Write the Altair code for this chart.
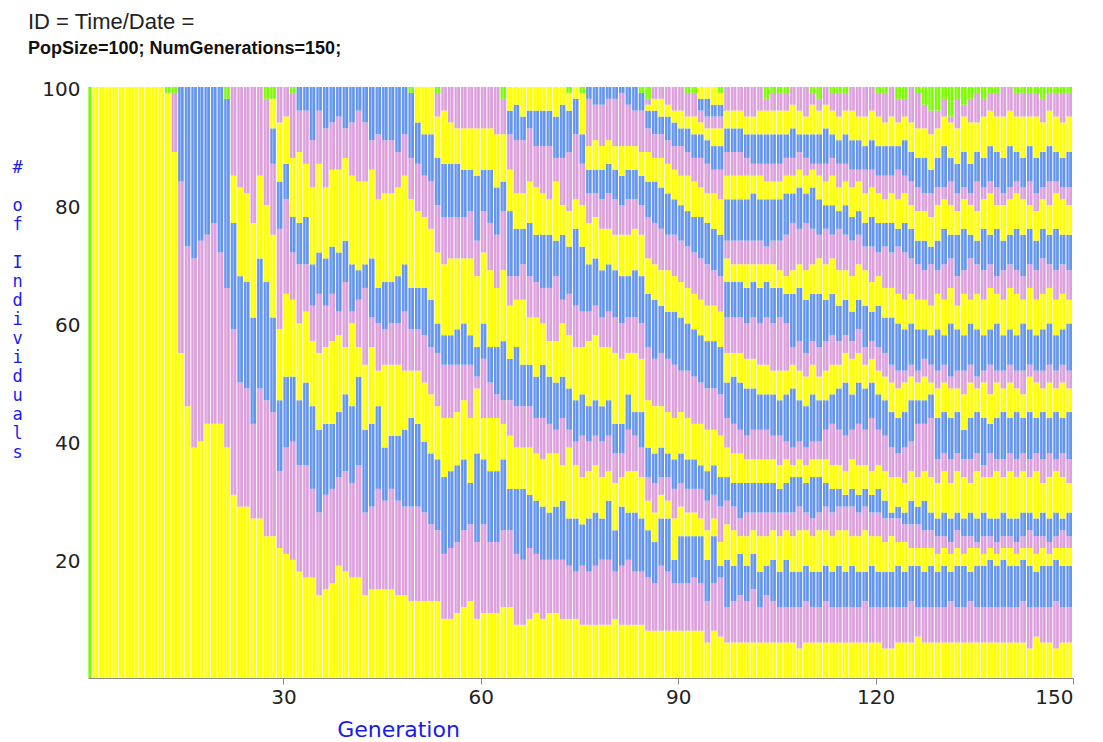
import altair as alt
import pandas as pd

# ---- data -------------------------------------------------------------
GENERATIONS = list(range(1, 151))

# cumulative class boundaries (bottom -> top) per generation; colours cycle
# Yellow, Pink, Blue from the bottom, the last class runs to the top
BOUNDS = [
    "", "", "", "", "", "", "", "", "", "", "", "", "",          # 1-13
    "89",                                                          # 14
    "55 84", "46 73", "39 71", "40 74", "43 75", "43 77", "43 72", "39 66",  # 15-22
    "31 59 77 85", "29 50 68 83", "29 49 67 82", "27 43 61 77",    # 23-26
    "27 49 71 85", "24 47 67 80",                                  # 27-28
    "24 45 61 75 87 93",                                           # 29
    "22 35 47 59 76 84 94", "21 39 51 65 81 87 95", "20 40 51 64 72 78 88",  # 30-32
    "18 36 47 60 70 77 89 96", "17 36 50 62 70 78 87 96", "17 32 46 57 63 70 83 91",
    "14 28 42 55 65 72 87 96", "15 31 43 56 63 71 83 93", "16 32 43 57 65 73 86 94",
    "19 34 45 58 62 72 86 95", "18 35 48 56 67 74 88 93", "17 33 46 60 62 70 85 94",
    "17 36 51 56 64 69 84 96", "14 28 42 53 66 70 84 94", "15 29 43 56 61 71 86 91",
    "15 32 46 52 60 66 81 92", "15 30 39 53 59 67 82 91", "15 32 41 53 60 67 82 91",
    "14 30 41 53 60 68 83 89", "14 29 42 52 62 70 85 92", "13 29 44 52 59 66 81 88",  # 33-50
    "13 29 43 52 59 66 79 87 94", "13 28 40 50 58 66 78 85 92", "13 26 38 48 56 64 76 84 92",  # 51-53
    "13 25 37 46 55 60 72 80 88 95", "10 21 34 44 53 58 70 78 87 96",
    "10 22 35 44 53 58 71 78 87 94", "11 23 36 45 53 59 71 78 87 93",
    "12 25 37 47 53 60 71 78 86 93", "13 26 33 44 53 58 71 79 86 93",
    "10 23 38 49 51 56 68 74 85 93", "11 26 37 44 54 60 72 79 86 93",
    "11 23 35 44 50 56 69 77 86 93", "11 23 35 44 48 56 66 75 83 92",
    "12 25 37 43 47 57 69 79 84 92",                               # 54-64
    "12 25 32 41 47 54 63 68 79 86 92 96", "9 21 32 39 46 56 64 68 76 82 91 97",
    "9 20 32 39 46 53 64 70 76 82 91 95", "10 22 31 39 46 53 61 68 77 84 93 96",
    "11 21 30 38 44 51 61 67 75 83 90 96", "10 20 29 37 44 53 60 66 75 82 90 96",
    "11 20 28 38 43 51 57 66 75 81 90 96", "11 20 29 38 42 50 57 68 74 84 88 95",
    "10 20 30 36 44 51 60 64 75 80 88 97", "10 19 27 39 42 49 58 65 73 79 89 96",
    "10 18 27 36 40 47 56 63 76 81 92 98", "9 19 26 34 41 48 56 62 73 80 87 92",  # 65-76
    "9 18 27 35 40 46 57 62 70 77 82 86 90 98", "9 19 28 36 41 47 58 63 71 78 82 86 91 97",
    "9 20 27 34 40 46 56 61 69 76 81 86 90 97", "9 20 30 35 41 47 56 62 70 76 82 87 91 98",
    "10 18 25 33 38 43 55 61 69 75 81 86 90 98", "9 19 29 34 38 43 54 60 68 75 80 85 90 99",
    "9 20 28 35 42 48 55 61 68 75 81 86 90 97", "9 18 28 35 41 45 55 61 69 76 81 86 90 96",
    "9 18 27 34 39 45 54 60 68 75 80 85 89 96",                    # 77-85
    "8 17 25 30 34 39 47 56 65 71 78 84 89 93 96 97",
    "8 16 23 28 33 38 46 54 64 70 77 84 88 92 96 98",
    "8 19 27 31 34 39 46 55 63 69 76 83 88 92 95 98",
    "8 18 27 30 34 38 45 54 62 69 75 82 87 91 95 97",
    "8 16 20 27 32 37 44 53 62 68 75 81 86 90 94 96",
    "8 16 24 29 33 38 45 52 61 67 74 80 85 90 93 96",
    "8 16 24 28 32 37 44 52 60 66 73 79 85 89 93 95",
    "8 17 24 28 32 37 43 51 59 65 72 78 84 88 92 95",              # 86-93
    "8 16 24 27 32 36 43 50 58 64 71 78 83 88 92 94 96 98",
    "6 13 20 25 30 35 42 49 57 63 70 77 82 87 91 93 95 98",
    "8 16 24 27 31 36 42 49 57 63 69 76 82 86 90 93 95 97",
    "7 17 19 23 29 34 41 48 56 62 68 75 81 86 90 93 95 97",        # 94-97
    "6 12 20 26 30 34 39 44 50 55 61 67 71 74 81 85 89 93 96",
    "6 13 19 25 29 33 38 43 51 55 61 67 70 74 81 85 89 93 96",
    "6 14 21 24 27 33 38 42 50 55 61 67 70 74 81 85 89 93 96",
    "6 13 19 24 28 33 37 41 49 54 60 66 70 74 81 85 88 92 95",
    "6 15 21 25 28 33 37 42 49 54 61 67 70 74 82 85 87 92 95",
    "6 12 18 24 28 33 37 42 48 53 60 66 70 74 81 85 87 92 96",
    "6 14 19 24 28 33 37 42 48 53 61 67 70 73 81 84 87 92 96",
    "6 13 20 25 28 33 37 41 48 52 60 66 70 74 81 84 87 92 96",
    "6 12 18 24 28 32 36 41 47 52 61 66 69 74 81 84 87 92 96",
    "6 12 20 25 28 33 37 40 48 52 60 65 68 75 82 85 88 92 96",     # 98-107
    "6 12 18 24 28 34 36 39 49 53 56 65 69 77 82 85 88 93 97",
    "5 12 18 25 29 34 37 40 47 52 57 66 70 76 83 86 89 92 96",
    "6 13 19 25 28 33 36 39 46 51 55 64 69 77 82 85 88 92 95",
    "6 12 18 24 27 34 37 40 48 53 57 65 70 76 83 86 87 92 97",
    "6 12 18 25 28 34 37 40 47 51 56 65 71 75 81 85 87 92 96",
    "6 13 19 25 29 33 37 42 47 52 57 64 70 76 80 84 87 93 97",
    "6 12 18 24 28 32 36 43 48 53 58 65 71 75 80 85 88 92 96",
    "6 12 19 25 29 32 36 42 49 53 57 63 69 76 79 83 87 91 95",
    "6 12 18 25 29 31 35 41 50 55 58 64 69 75 80 84 87 92 96",
    "6 12 19 24 29 32 37 42 48 54 57 62 68 74 78 83 86 91 96",
    "6 12 18 24 28 31 36 43 50 55 59 64 70 75 79 84 86 91 95",
    "6 13 18 25 29 32 36 42 49 53 56 63 69 73 77 82 86 90 95",
    "6 12 19 24 28 31 35 44 50 54 57 62 67 73 78 83 86 91 96",
    "6 12 18 24 28 32 36 42 48 52 56 63 68 72 77 82 85 90 95",
    "5 12 18 23 27 30 35 41 47 51 55 61 66 73 77 81 85 90 94",
    "5 12 18 24 27 28 34 39 45 50 53 61 66 72 77 82 85 90 95",
    "6 12 19 23 27 29 34 38 44 49 52 60 65 73 76 81 86 90 94",
    "6 12 18 23 26 28 33 39 45 50 52 59 64 72 77 82 85 91 95",
    "6 13 19 22 26 30 35 40 47 51 53 60 65 71 76 80 84 89 94",
    "7 12 19 22 26 29 34 43 47 50 52 59 64 70 74 79 83 88 93",
    "6 12 18 22 25 30 35 43 47 51 54 59 64 69 74 79 82 88 93",
    "6 12 19 22 25 28 34 44 48 50 53 58 63 70 73 78 82 86 92",
    "6 12 18 21 24 27 33 37 44 49 52 59 65 69 74 80 83 88 93",
    "6 12 19 22 24 28 35 38 45 50 53 58 64 70 76 81 83 90 95",
    "6 13 18 21 23 27 33 37 44 49 51 60 66 71 75 80 84 88 94",
    "6 12 19 22 25 28 35 38 45 49 52 59 63 68 75 79 82 87 93",
    "6 12 19 21 24 27 34 37 42 48 52 58 65 69 76 81 83 89 95",
    "6 13 18 22 24 28 33 37 44 50 53 60 64 71 75 80 82 87 94",
    "6 12 19 22 23 27 35 38 45 49 51 59 65 70 74 79 84 89 94",
    "6 12 19 21 24 28 34 36 44 50 52 58 64 69 76 81 83 88 95",
    "6 12 20 22 24 27 34 38 43 48 53 59 66 70 75 82 84 90 96",
    "6 12 19 21 23 27 35 37 44 50 52 60 65 68 76 80 83 89 95",
    "6 12 20 22 24 28 34 37 45 49 52 58 64 69 74 80 82 88 95",
    "6 12 19 22 24 27 35 38 44 50 53 59 66 70 75 81 83 90 96",
    "6 12 19 21 23 27 34 37 45 49 52 58 65 69 76 82 84 89 95",
    "6 13 20 22 24 28 35 38 44 48 52 60 64 68 75 81 83 88 95",
    "5 12 19 22 25 28 34 37 45 51 53 59 66 70 76 80 84 90 95",
    "7 12 18 21 24 27 35 38 44 50 52 58 64 69 74 79 82 88 95",
    "6 12 19 22 24 28 33 37 45 49 52 59 65 71 76 81 83 89 94",
    "6 12 19 21 23 27 34 38 44 50 53 60 66 70 75 80 84 90 96",
    "5 13 20 22 24 28 35 37 45 49 52 58 64 69 76 82 84 89 95",
    "6 12 19 22 25 27 34 38 44 50 53 59 65 70 75 81 83 88 94",
    "6 12 19 22 24 28 33 37 45 49 52 60 64 69 75 80 83 89 95",   # 108-150
]

# newly arisen (green) individuals at the top of a generation
GREEN_GENS = [1, 13, 14, 22, 28, 29, 32, 50, 54, 64, 74, 76, 85, 86, 92, 93, 97,
              104, 105, 106, 107, 111, 112, 114, 115, 116, 121, 122, 124, 125, 127,
              128, 129, 130, 131, 132, 133, 134, 135, 136, 137, 138, 139, 142, 143,
              144, 145, 146, 147, 148, 149, 150]
GREEN_SIZES = [100, 1, 1, 2, 2, 2, 1, 1, 1, 2, 1, 1, 1, 2, 1, 1, 1,
               2, 1, 1, 1, 1, 2, 1, 1, 1, 1, 1, 2, 2, 1,
               3, 4, 4, 2, 5, 2, 3, 2, 1, 2, 1, 1, 1, 1,
               1, 1, 2, 1, 1, 1, 1]

CYCLE = ["Yellow", "Pink", "Blue"]
CLASSES = ["Yellow", "Pink", "Blue", "Green"]
CLASS_COLORS = ["#FFFF00", "#DDA0DD", "#6495ED", "#7CFC00"]

X_TICKS = [30, 60, 90, 120, 150]
Y_TICKS = [20, 40, 60, 80, 100]
GAP = "\u200b"
Y_TITLE = ["#", GAP, "o", "f", GAP, "I", "n", "d", "i", "v", "i", "d", "u", "a", "l", "s"]

# ---- build table ------------------------------------------------------------
green_map = dict(zip(GREEN_GENS, GREEN_SIZES))
rows = []
for g, b in zip(GENERATIONS, BOUNDS):
    edges = [float(v) for v in b.split()]
    green = green_map.get(g, 0)
    top = 100 - green
    levels = [0.0] + edges + [top]
    for i in range(len(levels) - 1):
        lo, hi = levels[i], levels[i + 1]
        if hi > lo:
            rows.append({"gen": g, "lo": lo, "hi": hi, "cls": CYCLE[i % 3]})
    if green > 0:
        rows.append({"gen": g, "lo": top, "hi": 100.0, "cls": "Green"})
df = pd.DataFrame(rows)
gens_df = pd.DataFrame({"gen": GENERATIONS})

FONT = "DejaVu Sans"

x_scale = alt.Scale(domain=[0.3, 150], nice=False, zero=False)
y_scale = alt.Scale(domain=[0, 100], nice=False)

bars = alt.Chart(df).transform_calculate(
    x0="datum.gen - 1", x1="datum.gen - 0.15"
).mark_bar(clip=True, strokeWidth=0).encode(
    x=alt.X("x0:Q", scale=x_scale,
            axis=alt.Axis(values=X_TICKS, title="Generation", grid=False,
                          domainColor="#8a8a8a", tickColor="#8a8a8a", tickSize=6,
                          labelFont=FONT, labelFontSize=20, labelColor="#222222",
                          labelPadding=3, titleFont=FONT, titleFontSize=22,
                          titleFontWeight="normal", titleColor="#1a1af0",
                          titleX=310, titleY=58, titleBaseline="alphabetic",
                          titleAlign="center")),
    x2="x1:Q",
    y=alt.Y("lo:Q", scale=y_scale,
            axis=alt.Axis(values=Y_TICKS, title=Y_TITLE, grid=False, domain=False,
                          ticks=False, labelFont=FONT, labelFontSize=20,
                          labelColor="#222222", labelPadding=8, labelOffset=2,
                          titleFont="DejaVu Sans Mono", titleFontSize=17,
                          titleFontWeight="normal",
                          titleColor="#1a1af0", titleAngle=0, titleAlign="center",
                          titleBaseline="top", titleX=-71, titleY=72,
                          titleLineHeight=19)),
    y2="hi:Q",
    color=alt.Color("cls:N", scale=alt.Scale(domain=CLASSES, range=CLASS_COLORS),
                    legend=None),
)

stripes = alt.Chart(gens_df).transform_calculate(
    xs="datum.gen - 0.62", y0="0", y1="100"
).mark_rule(color="white", opacity=0.4, strokeWidth=1, clip=True).encode(
    x=alt.X("xs:Q", scale=x_scale),
    y=alt.Y("y0:Q", scale=y_scale),
    y2="y1:Q",
)

chart = alt.layer(bars, stripes).properties(
    width=985, height=591,
    title=alt.TitleParams(
        "ID = Time/Date =",
        subtitle="PopSize=100; NumGenerations=150;",
        anchor="start", frame="group", dx=-60, offset=20,
        font="Liberation Sans", fontSize=22, fontWeight="normal", color="#222222",
        subtitleFont="Liberation Sans", subtitleFontSize=18,
        subtitleFontWeight="bold", subtitleColor="#111111", subtitlePadding=6,
    ),
    autosize=alt.AutoSizeParams(type="none"),
    padding={"left": 80, "top": 79, "right": 10, "bottom": 62},
).configure_view(stroke=None)

chart.save("out.html", embed_options={"renderer": "svg", "actions": False})
